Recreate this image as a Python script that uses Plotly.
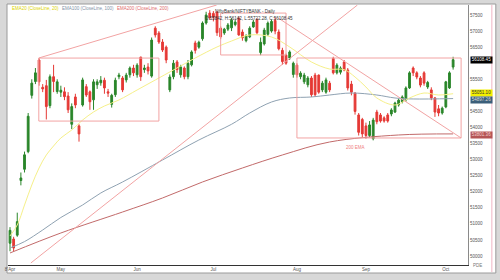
import plotly.graph_objects as go

# ---------------- data ----------------
month_ticks = [0, 14, 35, 56, 79, 98, 120]
month_labels = ["8'Apr", "May", "Jun", "Jul", "Aug", "Sep", "Oct"]

opens = [50400, 50530, 50650, 52350, 52700, 53250, 55000, 55430, 56100, 55250,
         55300, 54680, 55580, 55120, 55100, 55110, 54980, 54100, 54950, 54050,
         54700, 55270, 55110, 54860, 55330, 55390, 55470, 55110, 54720, 55020,
         55580, 55540, 55480, 55640, 55850, 55640, 56190, 55800, 55880, 55600,
         57090, 56940, 56660, 56500, 55170, 55580, 56040, 55640, 55850, 55580,
         55950, 56630, 56500, 56760, 57250, 57560, 57550, 57590, 57090, 56940,
         57060, 57100, 57200, 57400, 56970, 56700, 56820, 57130, 57350, 56330,
         56600, 56900, 57000, 57330, 56970, 56400, 56250, 56160, 55650, 55940,
         55580, 55420, 55330, 55540, 55630, 55630, 55170, 55100, 55380, 56150,
         55700, 55720, 56040, 55790, 55350, 55070, 54390, 54250, 54050, 53750,
         53650, 54480, 54390, 54300, 54390, 54420, 54480, 54700, 54800, 54860,
         55230, 55850, 55700, 55540, 55700, 55260, 55170, 54920, 54580, 54450,
         54640, 55230, 55880]
highs = [50900, 50600, 51350, 52600, 53250, 54450, 55500, 55850, 56160, 55350,
         55480, 55650, 55950, 55500, 55300, 55250, 55100, 54750, 55050, 54100,
         55550, 55350, 55150, 55500, 55500, 55600, 55550, 55200, 55050, 55550,
         55700, 55600, 55700, 55900, 55950, 56000, 56200, 55950, 56000, 56800,
         57150, 57000, 56750, 56550, 55650, 56100, 56100, 55950, 55900, 56100,
         56400, 56700, 56700, 57300, 57600, 57650, 57620, 57620, 57150, 57100,
         57250, 57400, 57350, 57450, 57050, 56900, 57150, 57350, 57400, 56800,
         57100, 57300, 57350, 57420, 57050, 56480, 56300, 56400, 56050, 56000,
         55750, 55700, 55600, 55600, 55700, 55650, 55450, 55550, 55450, 56200,
         56000, 55900, 56100, 55850, 55450, 55100, 54450, 54300, 54150, 54200,
         54300, 54550, 54450, 54350, 54450, 54600, 54800, 54900, 55000, 55280,
         55750, 55900, 55750, 55600, 55750, 55450, 55250, 54950, 54700, 54650,
         55450, 55750, 56200]
lows = [50150, 50150, 50600, 52200, 52600, 53200, 54900, 55350, 55300, 55100,
        54250, 54600, 55100, 55050, 54950, 54850, 54450, 53950, 54600, 53560,
        54650, 54950, 54550, 54550, 55200, 55300, 55050, 54950, 54620, 54950,
        55500, 55100, 55400, 55550, 55600, 55550, 55450, 55700, 55650, 55550,
        56800, 56600, 56350, 56000, 55100, 55500, 55700, 55550, 55500, 55500,
        55900, 56300, 56450, 56700, 57200, 57350, 57300, 56850, 56750, 56880,
        57000, 57000, 57150, 56850, 56700, 56650, 56780, 57100, 56900, 56250,
        56550, 56850, 56950, 56900, 56400, 55950, 55950, 56100, 55550, 55550,
        55500, 55350, 55250, 54950, 54950, 55050, 55100, 55050, 55100, 55650,
        55650, 55650, 55750, 55150, 55000, 54400, 53750, 53700, 53650, 53700,
        53600, 54100, 54150, 54150, 54150, 54350, 54450, 54650, 54750, 54800,
        55200, 55600, 55500, 55250, 55300, 55200, 54850, 54330, 54350, 54400,
        54600, 55200, 55800]
closes = [50800, 50250, 51070, 52430, 53150, 54350, 55380, 55700, 55420, 55200,
          54650, 55580, 55430, 55420, 55160, 54960, 54550, 54650, 54700, 53800,
          55480, 55010, 54800, 55420, 55420, 55470, 55230, 55070, 55000, 55470,
          55630, 55170, 55630, 55850, 55700, 55940, 55580, 55850, 55760, 56720,
          56880, 56660, 56410, 56100, 55570, 56000, 55800, 55880, 55580, 56000,
          56350, 56400, 56650, 57250, 57500, 57410, 57430, 56950, 56820, 57060,
          57190, 57340, 57280, 56880, 56790, 56850, 57090, 57280, 56950, 56650,
          57030, 57250, 57300, 57000, 56450, 56050, 56000, 56350, 56000, 55640,
          55690, 55630, 55540, 55020, 55020, 55100, 55380, 55480, 55170, 55700,
          55940, 55850, 55790, 55230, 55100, 54500, 53850, 53800, 53750, 54080,
          54230, 54180, 54200, 54200, 54200, 54545, 54760, 54850, 54950, 55230,
          55700, 55700, 55570, 55320, 55380, 55400, 54920, 54480, 54450, 54600,
          55420, 55700, 56108.45]

# moving averages (index, value)
ema20_idx = [0, 2, 4, 6, 8, 10, 12, 14, 17, 20, 23, 26, 30, 35, 40, 45, 51, 57,
             61, 66, 72, 77, 83, 88, 92, 95, 98, 101, 106, 110, 114, 118, 122]
ema20_val = [50625, 50967, 51589, 52211, 52740, 53145, 53425, 53674, 53922, 54233,
             54482, 54669, 54856, 55167, 55478, 55790, 56162, 56505, 56690, 56878,
             56816, 56505, 56038, 55820, 55800, 55571, 55260, 54918, 54700, 54918,
             55073, 55011, 55051.10]
ema100_idx = [0, 4, 9, 14, 20, 25, 31, 42, 52, 61, 66, 72, 77, 83, 88, 94, 101, 106, 111, 122]
ema100_val = [50252, 50450, 50811, 51200, 51589, 51963, 52305, 52989, 53611, 54100,
              54450, 54793, 54918, 54949, 55011, 55073, 55011, 54918, 54887, 54900]
ema200_idx = [0, 14, 31, 42, 53, 64, 75, 88, 107, 122]
ema200_val = [50096, 50718, 51371, 51807, 52305, 52740, 53145, 53549, 53767, 53800]

# axis ticks (56000 and 55000 sit under the price tags in the reference)
ytick_vals = [57500, 57000, 56500, 55500, 54500, 54000, 53500, 53000,
              52500, 52000, 51500, 51000, 50500, 50000]
ytick_text = [str(v) for v in ytick_vals]

# drawings (index, price)
boxes = [(7.93, 41.0, 54200, 56160), (58.0, 76.0, 56256, 57560), (79.0, 124.2, 53674, 56162)]
trend_lines = [(7.93, 56162, 56.9, 57811), (5.74, 49785, 95.66, 57811), (73.85, 57407, 124.2, 53674)]

legend_items = [("EMA20 (CloseLine, 20)", "#dcd400"),
                ("EMA100 (CloseLine, 100)", "#7f93a8"),
                ("EMA200 (CloseLine, 200)", "#e06a6a")]

# ---------------- figure ----------------
W, H = 500, 280
L, R, T, B = 5, 32, 5, 15
PW, PH = W - L - R, H - T - B


def px(x):
    return (x - L) / PW


def py(y):
    return (H - B - y) / PH


FONT = "Liberation Sans"
pink = "#f2a3a3"

fig = go.Figure()
fig.add_trace(go.Candlestick(
    x=list(range(len(closes))), open=opens, high=highs, low=lows, close=closes,
    increasing=dict(line=dict(color="#2a862a", width=1), fillcolor="#2a862a"),
    decreasing=dict(line=dict(color="#e53935", width=1), fillcolor="#e53935"),
    whiskerwidth=0, hoverinfo="skip"))
fig.add_trace(go.Scatter(x=ema200_idx, y=ema200_val, mode="lines",
                         line=dict(color="#c26a6a", width=1, shape="spline"), hoverinfo="skip"))
fig.add_trace(go.Scatter(x=ema100_idx, y=ema100_val, mode="lines",
                         line=dict(color="#8fa2b2", width=1, shape="spline"), hoverinfo="skip"))
fig.add_trace(go.Scatter(x=ema20_idx, y=ema20_val, mode="lines",
                         line=dict(color="#f6f08a", width=1, shape="spline"), hoverinfo="skip"))

shapes = [
    dict(type="rect", xref="paper", yref="paper", x0=px(4), x1=px(496), y0=py(273), y1=py(4),
         fillcolor="white", line=dict(color="#9a9a9a", width=1), layer="below"),
    dict(type="line", xref="paper", yref="paper", x0=px(492), x1=px(492), y0=py(272), y1=py(5),
         line=dict(color="#f0b4c4", width=1)),
]
for x0, x1, y0, y1 in boxes:
    shapes.append(dict(type="rect", xref="x", yref="y", x0=x0, x1=x1, y0=y0, y1=y1,
                       fillcolor="rgba(255,190,190,0.0)", line=dict(color=pink, width=1)))
for x0, y0, x1, y1 in trend_lines:
    shapes.append(dict(type="line", xref="x", yref="y", x0=x0, y0=y0, x1=x1, y1=y1,
                       line=dict(color=pink, width=1)))

ann = []
xcur = 7
for txt, col in legend_items:
    ann.append(dict(xref="paper", yref="paper", x=px(xcur), y=py(9), xanchor="left", yanchor="middle",
                    text=txt, showarrow=False, font=dict(family=FONT, size=4.5, color=col)))
    xcur += len(txt) * 2.22 + 4
ann.append(dict(xref="paper", yref="paper", x=px(244), y=py(7), text="NiftyBank/NIFTYBANK - Daily",
                showarrow=False, font=dict(family=FONT, size=4.5, color="#333")))
ann.append(dict(xref="paper", yref="paper", x=px(248), y=py(14),
                text="O:55842, H:56142, L:55722.28, C:56108.45",
                showarrow=False, font=dict(family=FONT, size=4.5, color="#333")))
ann.append(dict(xref="x", yref="y", x=95.2, y=53393, text="200 EMA", showarrow=False,
                font=dict(family=FONT, size=4.5, color="#f08080")))
ann.append(dict(xref="paper", yref="paper", x=px(484), y=py(270), text="PDE", showarrow=False,
                font=dict(family=FONT, size=4.5, color="#777")))

last_close = closes[-1]
labels = [
    (f"{last_close:.2f}", last_close, "black", "white"),
    (f"{ema20_val[-1]:.2f}", ema20_val[-1] + 20, "#f4f000", "#333"),
    ("54897.26", ema20_val[-1] - 190, "#3b5f7a", "#ddd"),
    ("53801.36", ema200_val[-1] - 30, "#b55555", "#f3d0d0"),
]
for txt, yv, bg, fc in labels:
    ann.append(dict(xref="paper", yref="y", x=px(470), y=yv, xanchor="left", yanchor="middle",
                    text=txt, showarrow=False, bgcolor=bg, width=21, height=5.5, borderpad=0,
                    font=dict(family=FONT, size=4.5, color=fc)))

fig.update_layout(
    width=W, height=H, margin=dict(l=L, r=R, t=T, b=B),
    paper_bgcolor="#d8d8d8", plot_bgcolor="rgba(0,0,0,0)", showlegend=False,
    shapes=shapes, annotations=ann,
    xaxis=dict(range=[-0.55, 126.1], tickvals=month_ticks, ticktext=month_labels,
               showgrid=False, zeroline=False, showline=True, linecolor="#333", linewidth=1,
               ticks="", tickfont=dict(family=FONT, size=4.5, color="#555"),
               rangeslider=dict(visible=False)),
    yaxis=dict(side="right", range=[49722, 57811], tickvals=ytick_vals, ticktext=ytick_text,
               showgrid=False, zeroline=False, showline=True, linecolor="#8a8a8a", linewidth=1,
               ticks="", tickfont=dict(family=FONT, size=4.5, color="#555")),
)

fig.write_html("out.html")
